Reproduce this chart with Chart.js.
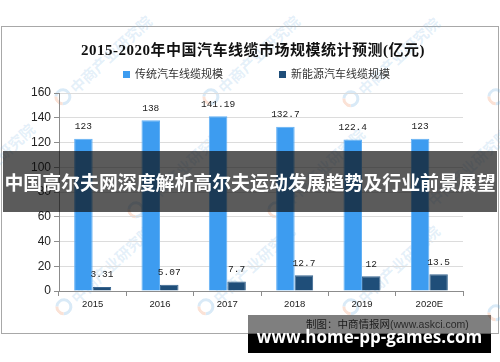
<!DOCTYPE html>
<html lang="zh">
<head>
    <meta charset="UTF-8" />
    <title>2015-2020年中国汽车线缆市场规模统计预测</title>
    <script src="https://cdn.jsdelivr.net/npm/chart.js"></script>
    <style>
        * { box-sizing: border-box; margin: 0; padding: 0; }

        body {
            width: 500px;
            height: 362px;
            position: relative;
            overflow: hidden;
            background: #fff;
            font-family: 'Noto Sans CJK SC', sans-serif;
        }

        .frame {
            position: absolute;
            left: 1px; top: 26px;
            width: 498px; height: 308px;
            border: 1px solid #a8a8a8;
        }

        .wm {
            position: absolute;
            transform-origin: left center;
            transform: rotate(-43deg);
            font-size: 15px;
            font-weight: bold;
            color: rgba(120, 180, 225, 0.2);
            white-space: nowrap;
            line-height: 16px;
        }
        .wm::before {
            content: '';
            display: inline-block;
            width: 11px; height: 11px;
            margin-right: 3px;
            border-radius: 50%;
            border: 3px solid rgba(120, 180, 225, 0.28);
            border-left-color: rgba(240, 150, 110, 0.28);
            vertical-align: -1px;
        }

        #chart {
            position: absolute;
            left: 0; top: 0;
        }

        .title {
            position: absolute;
            left: 0; width: 506px; top: 40px;
            text-align: center;
            font-family: 'Liberation Serif', 'Noto Sans CJK SC', serif;
            font-weight: bold;
            font-size: 15px;
            letter-spacing: 0.5px;
            line-height: 20px;
            color: #111;
        }

        .legend {
            position: absolute;
            top: 66px;
            font-size: 11px;
            line-height: 14px;
            color: #333;
            white-space: nowrap;
        }
        .legend i {
            display: inline-block;
            width: 7px; height: 7px;
            margin-right: 5px;
            vertical-align: 0px;
        }

        .banner {
            position: absolute;
            left: 3px; top: 151px;
            width: 494px; height: 61px;
            background: rgba(10, 10, 10, 0.67);
            color: #fff;
            font-weight: bold;
            font-size: 18.9px;
            line-height: 61px;
            text-align: center;
            white-space: nowrap;
        }

        .source-band {
            position: absolute;
            left: 248px; top: 315px;
            width: 243px; height: 20px;
            background: rgba(0, 0, 0, 0.5);
        }
        .source {
            position: absolute;
            left: 306px; top: 317px;
            font-size: 10.5px;
            line-height: 14px;
            color: #1a1a1a;
            white-space: nowrap;
        }
        .source span { color: #2a2a2a; font-family: 'Liberation Sans', sans-serif; font-size: 10.5px; }

        .site-band {
            position: absolute;
            left: 248px; top: 334px;
            width: 243px; height: 19px;
            background: #000;
        }
        .site {
            position: absolute;
            left: 248px; width: 243px; top: 326px;
            text-align: center;
            font-family: 'Open Sans', sans-serif;
            font-weight: bold;
            font-size: 17px;
            line-height: 22px;
            color: #fff;
            white-space: nowrap;
        }
    </style>
</head>
<body>
    <div class="frame"></div>
    <div id="watermarks"></div>

    <canvas id="chart" width="500" height="362"></canvas>

    <div class="title">2015-2020年中国汽车线缆市场规模统计预测(亿元)</div>
    <div class="legend" style="left:123px"><i style="background:#3d9cf0"></i>传统汽车线缆规模</div>
    <div class="legend" style="left:279px"><i style="background:#1f4e79"></i>新能源汽车线缆规模</div>

    <div class="banner">中国高尔夫网深度解析高尔夫运动发展趋势及行业前景展望</div>

    <div class="source-band"></div>
    <div class="source">制图：中商情报网<span>(www.askci.com)</span></div>
    <div class="site-band"></div>
    <div class="site">www.home-pp-games.com</div>

    <script>
        // data
        const years = ['2015', '2016', '2017', '2018', '2019', '2020E'];
        const traditional = [123, 138, 141.19, 132.7, 122.4, 123];
        const newEnergy = [3.31, 5.07, 7.7, 12.7, 12, 13.5];
        const seriesNames = ['传统汽车线缆规模', '新能源汽车线缆规模'];
        const yMin = 0, yMax = 160, yStep = 20;

        // faint "中商产业研究院" watermark spots
        const wmSpots = [
            [57, 102], [205, 102], [345, 104], [490, 102],
            [-60, 210], [130, 215], [270, 215], [415, 215],
            [58, 312], [200, 312], [345, 312], [490, 318]
        ];
        const wmBox = document.getElementById('watermarks');
        wmSpots.forEach(([x, y]) => {
            const d = document.createElement('div');
            d.className = 'wm';
            d.style.left = x + 'px';
            d.style.top = (y - 8) + 'px';
            d.textContent = '中商产业研究院';
            wmBox.appendChild(d);
        });

        // value labels above each bar
        const barLabels = {
            id: 'barLabels',
            afterDatasetsDraw(chart) {
                const ctx = chart.ctx;
                ctx.save();
                ctx.font = '9.5px "Liberation Mono", monospace';
                ctx.fillStyle = '#222';
                ctx.textAlign = 'center';
                ctx.textBaseline = 'middle';
                chart.data.datasets.forEach((ds, i) => {
                    chart.getDatasetMeta(i).data.forEach((bar, j) => {
                        ctx.fillText(String(ds.data[j]), bar.x, bar.y - 12);
                    });
                });
                ctx.restore();
            }
        };

        new Chart(document.getElementById('chart'), {
            type: 'bar',
            data: {
                labels: years,
                datasets: [{
                    label: seriesNames[0],
                    data: traditional,
                    backgroundColor: '#3d9cf0',
                    borderColor: '#62b0f4',
                    borderWidth: 1,
                    categoryPercentage: 0.55,
                    barPercentage: 1
                }, {
                    label: seriesNames[1],
                    data: newEnergy,
                    backgroundColor: '#1f4e79',
                    borderColor: '#3a6791',
                    borderWidth: 1,
                    categoryPercentage: 0.55,
                    barPercentage: 1
                }]
            },
            options: {
                responsive: false,
                animation: false,
                layout: { padding: { left: 0, right: 37, top: 93, bottom: 41 } },
                plugins: {
                    legend: { display: false },
                    title: { display: false },
                    tooltip: { enabled: false }
                },
                scales: {
                    x: {
                        afterFit(scale) { scale.height = 30; },
                        grid: {
                            offset: true,
                            drawOnChartArea: false,
                            tickLength: 5,
                            color: '#8c8c8c'
                        },
                        border: { color: '#8c8c8c' },
                        ticks: {
                            color: '#222',
                            padding: 3,
                            font: { family: 'Liberation Sans', size: 9.5 }
                        }
                    },
                    y: {
                        min: yMin,
                        max: yMax,
                        afterFit(scale) { scale.width = 59; },
                        grid: {
                            color: '#dcdcdc',
                            tickColor: '#8c8c8c',
                            tickLength: 5
                        },
                        border: { color: '#8c8c8c' },
                        ticks: {
                            stepSize: yStep,
                            color: '#222',
                            padding: 3,
                            font: { family: 'Liberation Sans', size: 12 }
                        }
                    }
                }
            },
            plugins: [barLabels]
        });
    </script>
</body>
</html>
